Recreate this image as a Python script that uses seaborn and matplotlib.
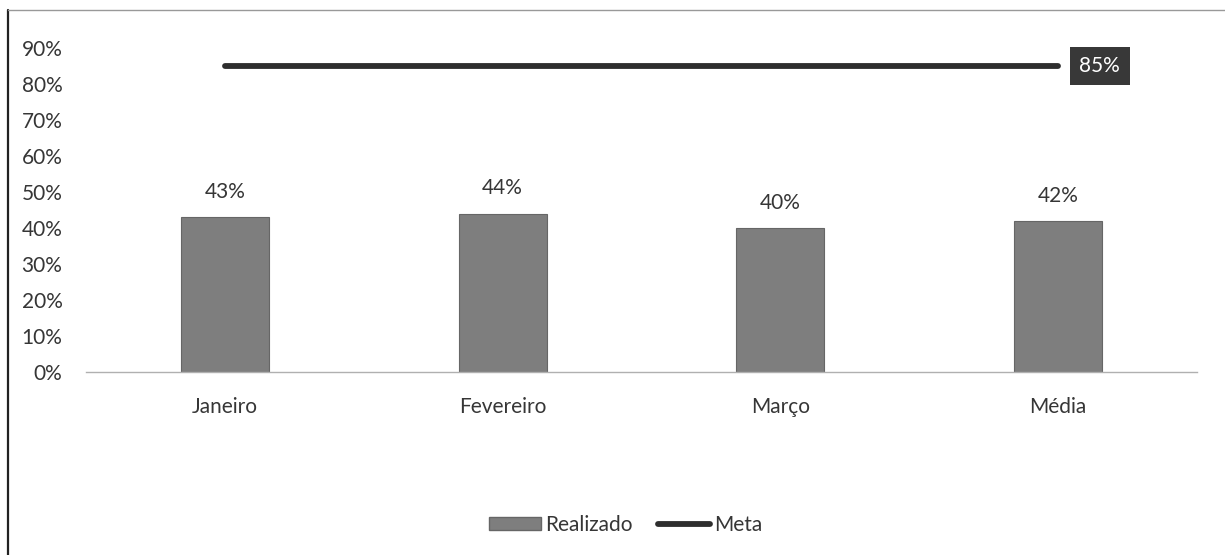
import matplotlib
matplotlib.use('Agg')
import matplotlib.pyplot as plt
import seaborn as sns
from matplotlib.ticker import PercentFormatter
from matplotlib.patches import Patch
from matplotlib.lines import Line2D

sns.set_theme(style="white")
plt.rcParams['font.family'] = ['Lato', 'DejaVu Sans']

# Data
meses = ['Janeiro', 'Fevereiro', 'Março', 'Média']
realizado = [0.43, 0.44, 0.40, 0.42]
meta = [0.85, 0.85, 0.85, 0.85]
yticks = [0.0, 0.1, 0.2, 0.3, 0.4, 0.5, 0.6, 0.7, 0.8, 0.9]

bar_color = '#7e7e7e'
line_color = '#2e2e2e'
text_color = '#363636'
fs = 15

fig = plt.figure(figsize=(12.25, 5.55), dpi=100)
ax = fig.add_axes([0.0702, 0.3297, 0.907, 0.5838])

# Bars
sns.barplot(x=meses, y=realizado, color=bar_color, width=0.317,
            edgecolor='#666666', linewidth=0.8, saturation=1, ax=ax)

# Meta line
sns.lineplot(x=list(range(len(meses))), y=meta, color=line_color,
             linewidth=4.2, solid_capstyle='round', ax=ax)

# Data labels on bars
for i, v in enumerate(realizado):
    ax.annotate(f'{v:.0%}', (i, v), xytext=(0, 11), textcoords='offset points',
                ha='center', va='bottom', fontsize=fs, color=text_color)

# Label for the target line (last point)
ax.annotate(f'{meta[-1]:.0%}', (len(meses) - 1, meta[-1]), xytext=(30, 0),
            textcoords='offset points', ha='center', va='center',
            fontsize=fs, color='white',
            bbox=dict(boxstyle='square,pad=0.45', fc='#383838', ec='none'))

ax.set_xlim(-0.5, len(meses) - 0.5)
ax.set_ylim(0, 0.9)
ax.set_yticks(yticks)
ax.yaxis.set_major_formatter(PercentFormatter(1.0, decimals=0))
ax.tick_params(axis='y', labelsize=fs, colors=text_color, length=0, pad=17)
ax.tick_params(axis='x', labelsize=fs, colors=text_color, length=0, pad=18)

for s in ['top', 'right', 'left']:
    ax.spines[s].set_visible(False)
ax.spines['bottom'].set_color('#b0b0b0')
ax.spines['bottom'].set_linewidth(1.0)
ax.grid(False)

# Legend
handles = [Patch(facecolor=bar_color, edgecolor='#666666', label='Realizado'),
           Line2D([0], [0], color=line_color, linewidth=4.2, solid_capstyle='round', label='Meta')]
fig.legend(handles=handles, loc='center', bbox_to_anchor=(0.511, 0.054), ncol=2,
           frameon=False, fontsize=fs, handlelength=2.5, handleheight=0.55,
           handletextpad=0.2, columnspacing=1.2, labelcolor=text_color)

# Frame of the scanned chart box
fig.add_artist(Line2D([8 / 1225, 8 / 1225], [0, 1 - 10 / 555], color='#222222', linewidth=1.6))
fig.add_artist(Line2D([8 / 1225, 1], [1 - 10 / 555, 1 - 10 / 555], color='#999999', linewidth=1.0))

fig.savefig('out.png', dpi=100)
